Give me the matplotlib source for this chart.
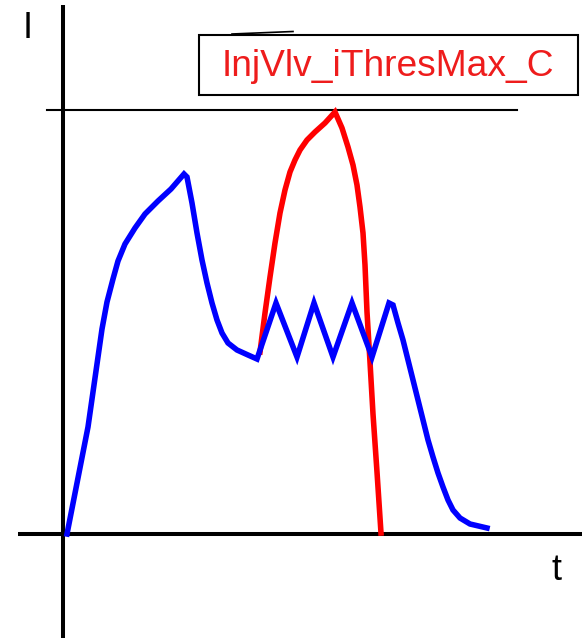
import matplotlib
matplotlib.use("Agg")
from matplotlib import pyplot as plt

plt.rcParams['font.family'] = ['Liberation Sans', 'DejaVu Sans']

# schematic drawn in picture coordinates (x right, y down)
# blue: coil current with hold-phase chopping
blue_x = [67, 88, 97, 102, 107, 113, 118, 125, 135, 145, 158, 171, 184,
          187, 192, 197, 202, 207, 212, 217, 222, 228, 237, 248, 257,
          276, 297, 314, 333, 352, 372, 389,
          393, 398, 403, 408, 413, 418, 423, 428, 433, 438, 443, 448, 453,
          460, 470, 487]
blue_y = [534, 427, 364, 329, 302, 279, 261, 244, 228, 214, 201, 189, 174,
          177, 203, 233, 260, 283, 303, 320, 333, 343, 350, 355, 359,
          303, 357, 303, 357, 303, 357, 303,
          305, 323, 340, 360, 380, 400, 420, 440, 457, 473, 487, 500, 510,
          518, 524, 528]

# red: current reaching the max threshold
red_x = [260, 265, 270, 275, 280, 285, 290, 295, 300, 307, 315, 325, 335,
         342, 348, 353, 357, 360, 363, 365, 367, 370, 373, 377, 381]
red_y = [352, 313, 277, 243, 213, 190, 172, 160, 150, 140, 132, 123, 112,
         128, 147, 165, 185, 207, 233, 265, 312, 362, 414, 472, 533]

label_text = "InjVlv_iThresMax_C"

fig = plt.figure(figsize=(5.82, 6.38), dpi=100)
ax = fig.add_axes([0, 0, 1, 1])
ax.set_xlim(0, 582)
ax.set_ylim(638, 0)
ax.axis('off')

# axes
ax.plot([63, 63], [5, 638], color='black', lw=2.9, solid_capstyle='butt')
ax.plot([18, 582], [534, 534], color='black', lw=2.9, solid_capstyle='butt')
# threshold line
ax.plot([47, 517], [110, 110], color='black', lw=1.5)

ax.plot(red_x, red_y, color='#ff0000', lw=4, solid_joinstyle='miter')
ax.plot(blue_x, blue_y, color='#0000ff', lw=4, solid_joinstyle='miter')

# label box
ax.add_patch(plt.Rectangle((199, 35), 379, 60, fill=False, edgecolor='black', lw=1.5))
ax.plot([232, 293], [34, 31.5], color='black', lw=1.2)
ax.text(388, 66, label_text, color='#ee1c1c', fontsize=26.7, ha='center', va='center')

ax.text(28, 29, "I", color='black', fontsize=26, ha='center', va='center')
ax.text(557, 570, "t", color='black', fontsize=26, ha='center', va='center')

fig.savefig('out.png', dpi=100)
